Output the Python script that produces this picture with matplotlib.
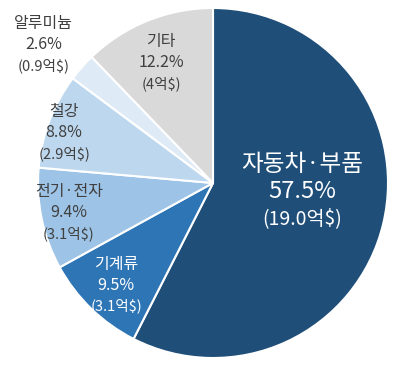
import matplotlib

matplotlib.use("Agg")

import matplotlib.pyplot as plt  # noqa: E402

plt.rcParams["font.family"] = ["Noto Sans CJK KR", "DejaVu Sans"]

# 품목별 비중 (%), 금액 (억$)
categories = ["자동차·부품", "기계류", "전기·전자", "철강", "알루미늄", "기타"]
shares = [57.5, 9.5, 9.4, 8.8, 2.6, 12.2]
amounts = ["19.0억$", "3.1억$", "3.1억$", "2.9억$", "0.9억$", "4억$"]

colors = ["#1f4e79", "#2e75b6", "#9dc3e6", "#bdd7ee", "#deebf7", "#d9d9d9"]
text_colors = ["white", "white", "#404040", "#404040", "#404040", "#404040"]
# 라벨 중심 위치 (축 좌표, 반지름 1 기준)
label_pos = [(0.51, -0.05), (-0.554, -0.583), (-0.823, -0.171),
             (-0.851, 0.286), (-0.97, 0.79), (-0.297, 0.686)]

W, H = 403, 368
cx, cy, r = 213, 183, 175

fig = plt.figure(figsize=(W / 100, H / 100), dpi=100)
ax = fig.add_axes([(cx - r) / W, (H - cy - r) / H, 2 * r / W, 2 * r / H])
ax.pie(shares, colors=colors, startangle=90, counterclock=False, radius=1,
       wedgeprops=dict(edgecolor="white", linewidth=1.5))
ax.set_xlim(-1, 1)
ax.set_ylim(-1, 1)
ax.set_aspect("equal")
ax.axis("off")

for i, (name, pct, amt) in enumerate(zip(categories, shares, amounts)):
    x, y = label_pos[i]
    c = text_colors[i]
    big = i == 0
    step = 0.154 if big else 0.12
    fs1 = 17 if big else 11.5
    fs3 = 14 if big else 10.5
    ax.text(x, y + step, name, ha="center", va="center", fontsize=fs1, color=c)
    ax.text(x, y, f"{pct}%", ha="center", va="center", fontsize=fs1, color=c)
    ax.text(x, y - step, f"({amt})", ha="center", va="center", fontsize=fs3, color=c)

fig.savefig("out.png", dpi=100)
